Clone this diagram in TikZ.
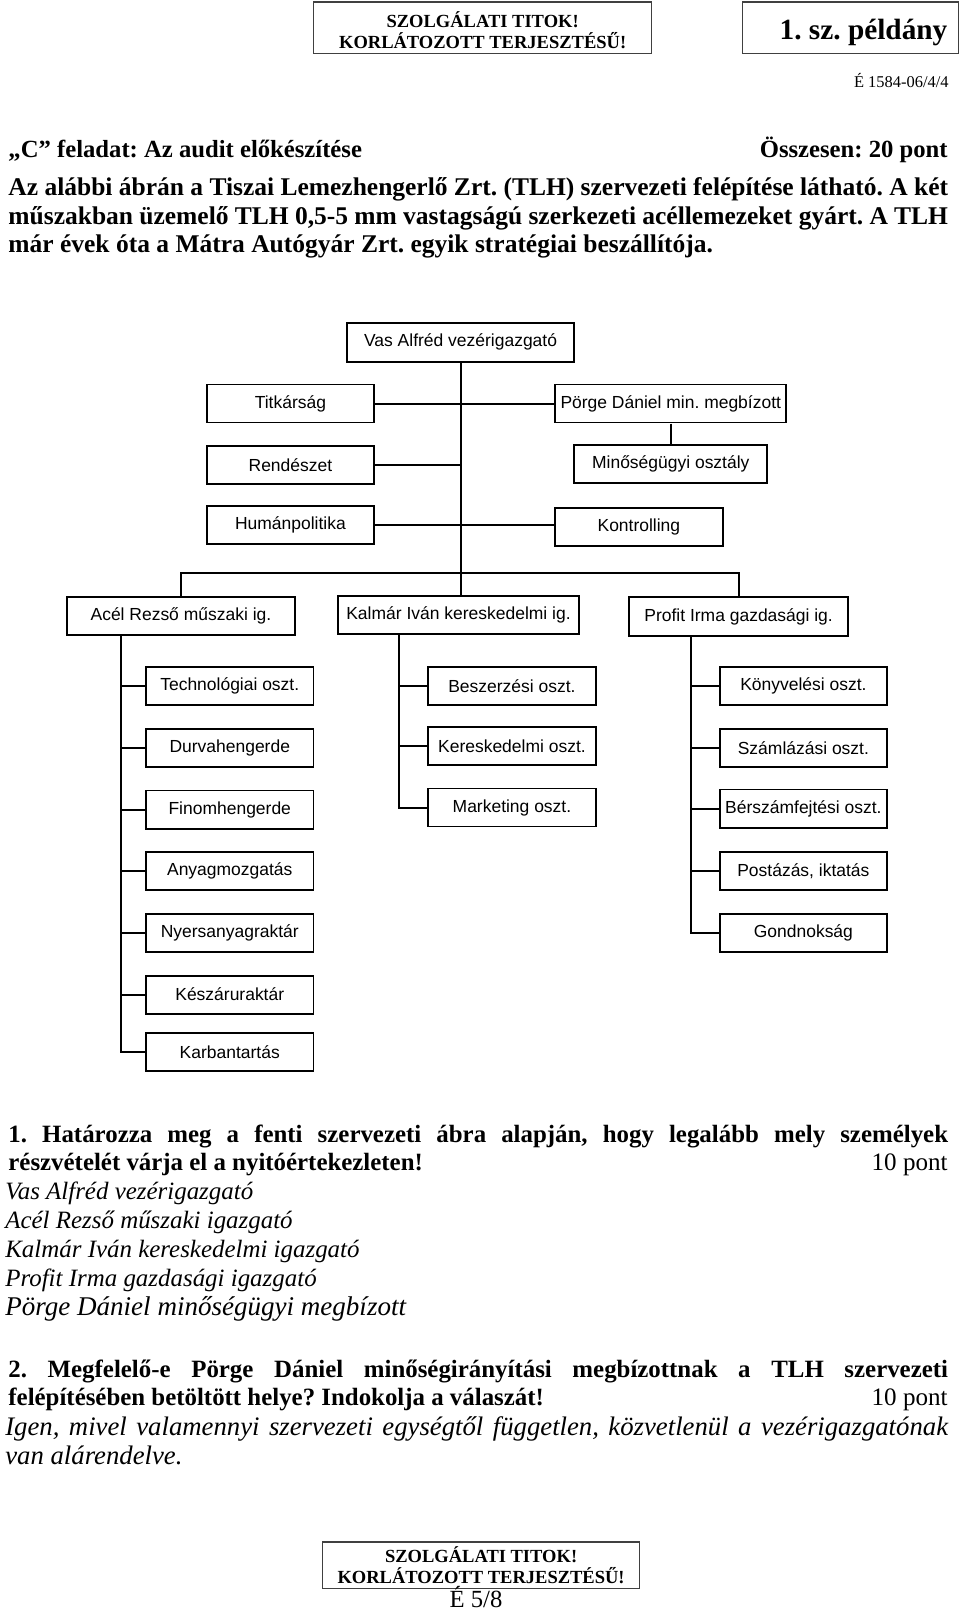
\documentclass[tikz,border=0pt]{standalone}
\usepackage{fontspec}
\setmainfont{Liberation Serif}
\newfontfamily\arialf{Liberation Sans}
\AtBeginDocument{\frenchspacing}
\newcommand\bodyb{\bfseries\fontsize{24.8}{28}\selectfont}
\newcommand\titleb{\bfseries\fontsize{24}{28}\selectfont}
\newcommand\qb{\bfseries\fontsize{24.2}{28}\selectfont}
\newcommand\bodyr{\mdseries\fontsize{24.4}{28}\selectfont}
\newcommand\bodyi{\itshape\fontsize{24.25}{28}\selectfont}
\newcommand\bodyii{\itshape\fontsize{26.3}{29}\selectfont}
\newcommand\bodyiii{\itshape\fontsize{26}{29}\selectfont}
\begin{document}
\begin{tikzpicture}[x=1pt,y=-1pt,scale=1.028,every node/.append style={transform shape},
 ob/.style={draw, line width=1.9pt, inner sep=0pt, font=\arialf\fontsize{17}{20}\selectfont, minimum height=37pt},
 col/.style={ob, minimum width=163pt},
 conn/.style={line width=1.9pt},
 hb/.style={draw=black!75, line width=1.2pt, inner sep=0pt, align=center},
 tx/.style={inner sep=0pt, anchor=base west},
 txr/.style={inner sep=0pt, anchor=base east}]
\useasboundingbox (0,0) rectangle (933.85,1568.09);
\fill[white] (0,0) rectangle (933.85,1568.09);

% header
\node[hb, minimum width=329pt, minimum height=50pt] (hdr1) at (469.5,27) {};
\node[inner sep=0pt, align=center, font=\bfseries\fontsize{18}{21}\selectfont] (hdr1t) at (469.5,29.5) {SZOLG\'ALATI TITOK!\\KORL\'ATOZOTT TERJESZT\'ES\H{U}!};
\node[hb, minimum width=210pt, minimum height=50pt] (hdr2) at (827,27) {};
\node[inner sep=0pt, anchor=base, font=\bfseries\fontsize{28.5}{30}\selectfont] (hdr2t) at (840,38) {1. sz. példány};
\node[txr, font=\fontsize{16}{18}\selectfont] (code) at (923,85) {É 1584-06/4/4};

\node[tx, font=\titleb] (title) at (8,153) {„C” feladat: Az audit előkészítése};
\node[txr, font=\titleb] (total) at (922,153) {Összesen: 20 pont};

\node[tx] (p1) at (8,190) {\makebox[914pt][s]{\bodyb Az alábbi ábrán a Tiszai Lemezhengerlő Zrt. (TLH) szervezeti felépítése látható. A két}};
\node[tx] (p2) at (8,218) {\makebox[914pt][s]{\bodyb műszakban üzemelő TLH 0,5-5 mm vastagságú szerkezeti acéllemezeket gyárt. A TLH}};
\node[tx, font=\bodyb] (p3) at (8,246) {már évek óta a Mátra Autógyár Zrt. egyik stratégiai beszállítója.};

% chart
\node[ob, minimum width=221pt, minimum height=38pt] (vas) at (448,333) {Vas Alfréd vezérigazgató};
\node[col] (titk) at (282.5,392.5) {Titkárság};
\node[ob, minimum width=225pt] (porge) at (652.5,392.5) {Pörge Dániel min. megbízott};
\node[col] (rend) at (282.5,452.5) {Rendészet};
\node[ob, minimum width=188pt] (minos) at (652.5,451.5) {Minőségügyi osztály};
\node[col] (human) at (282.5,511) {Humánpolitika};
\node[col] (kontr) at (621.5,512.5) {Kontrolling};

\node[ob, minimum width=222pt] (acel) at (176,599.5) {Acél Rezső műszaki ig.};
\node[ob, minimum width=234pt] (kalmar) at (446,598.5) {Kalmár Iván kereskedelmi ig.};
\node[ob, minimum width=213pt, minimum height=38pt] (profit) at (718.5,600) {Profit Irma gazdasági ig.};

\node[col] (tech) at (223.5,667.5) {Technológiai oszt.};
\node[col] (durva) at (223.5,727.5) {Durvahengerde};
\node[col] (finom) at (223.5,787.5) {Finomhengerde};
\node[col] (anyag) at (223.5,847.5) {Anyagmozgatás};
\node[col] (nyers) at (223.5,907.5) {Nyersanyagraktár};
\node[col] (kesz) at (223.5,967.5) {Készáruraktár};
\node[col] (karb) at (223.5,1023.5) {Karbantartás};

\node[col, minimum width=164pt] (besz) at (498,667.5) {Beszerzési oszt.};
\node[col, minimum width=164pt] (keresk) at (498,725.5) {Kereskedelmi oszt.};
\node[col, minimum width=164pt] (mark) at (498,785.5) {Marketing oszt.};

\node[col] (konyv) at (781.5,667.5) {Könyvelési oszt.};
\node[col] (szaml) at (781.5,727.5) {Számlázási oszt.};
\node[col] (ber) at (781.5,786.5) {Bérszámfejtési oszt.};
\node[col] (post) at (781.5,847.5) {Postázás, iktatás};
\node[col] (gond) at (781.5,907.5) {Gondnokság};

\coordinate (bus) at (448,557);
\coordinate (lt) at (118,0);
\coordinate (mt) at (388,0);
\coordinate (rt) at (672,0);

\draw[conn] (vas.south) -- (bus);
\draw[conn] (titk.east) -- (porge.west);
\draw[conn] (rend.east) -- (rend.east -| bus);
\draw[conn] (human.east) -- (kontr.west |- human.east);
\draw[conn] (porge.south) -- (minos.north);
\draw[conn] (acel.north) |- (bus) -| (profit.north);
\draw[conn] (bus) -- (bus |- kalmar.north);

\draw[conn] (acel.south -| lt) |- (karb.west);
\foreach \n in {tech,durva,finom,anyag,nyers,kesz}{\draw[conn] (\n.west) -- (\n.west -| lt);}
\draw[conn] (kalmar.south -| mt) |- (mark.west);
\foreach \n in {besz,keresk}{\draw[conn] (\n.west) -- (\n.west -| mt);}
\draw[conn] (profit.south -| rt) |- (gond.west);
\foreach \n in {konyv,szaml,ber,post}{\draw[conn] (\n.west) -- (\n.west -| rt);}

% question 1
\node[tx] (q1a) at (8,1111) {\makebox[914pt][s]{\qb 1. Határozza meg a fenti szervezeti ábra alapján, hogy legalább mely személyek}};
\node[tx, font=\qb] (q1b) at (8,1139) {részvételét várja el a nyitóértekezleten!};
\node[txr, font=\bodyr] (q1p) at (922,1139) {10 pont};
\node[tx, font=\bodyi] (a1) at (5,1167) {Vas Alfréd vezérigazgató};
\node[tx, font=\bodyi] (a2) at (5,1195) {Acél Rezső műszaki igazgató};
\node[tx, font=\bodyi] (a3) at (5,1223) {Kalmár Iván kereskedelmi igazgató};
\node[tx, font=\bodyi] (a4) at (5,1251) {Profit Irma gazdasági igazgató};
\node[tx, font=\bodyii] (a5) at (5,1280) {Pörge Dániel minőségügyi megbízott};

% question 2
\node[tx] (q2a) at (8,1340) {\makebox[914pt][s]{\qb 2. Megfelelő-e Pörge Dániel minőségirányítási megbízottnak a TLH szervezeti}};
\node[tx, font=\qb] (q2b) at (8,1367) {felépítésében betöltött helye? Indokolja a válaszát!};
\node[txr, font=\bodyr] (q2p) at (922,1367) {10 pont};
\node[tx] (b1) at (5,1396) {\makebox[917pt][s]{\bodyiii Igen, mivel valamennyi szervezeti egységtől független, közvetlenül a vezérigazgatónak}};
\node[tx, font=\bodyiii] (b2) at (5,1425) {van alárendelve.};

% footer
\node[hb, minimum width=308pt, minimum height=45pt, font=\bfseries\fontsize{18}{20.5}\selectfont] (ftr) at (468,1522.5) {SZOLG\'ALATI TITOK!\\KORL\'ATOZOTT TERJESZT\'ES\H{U}!};
\node[inner sep=0pt, anchor=base, font=\fontsize{24}{26}\selectfont] (page) at (463,1563.5) {É 5/8};
\end{tikzpicture}
\end{document}
